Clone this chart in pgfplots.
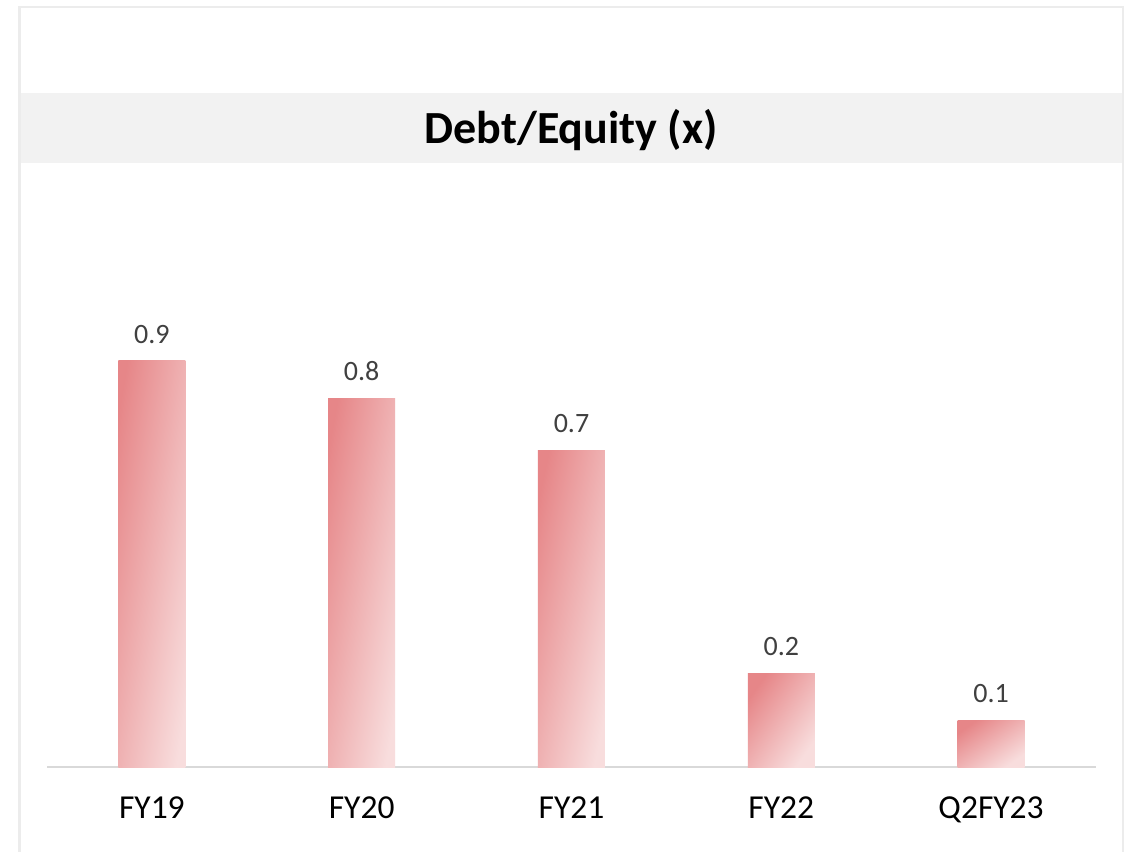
\documentclass[border=0pt]{standalone}
\usepackage{pgfplots}
\pgfplotsset{compat=1.18}
\usepackage{fontspec}
\setmainfont{Carlito}
\definecolor{barA}{RGB}{230,134,136}
\definecolor{barB}{RGB}{248,221,221}
\definecolor{band}{RGB}{242,242,242}
\definecolor{frame}{RGB}{236,236,236}
\definecolor{baseline}{RGB}{217,217,217}
\definecolor{lbl}{RGB}{64,64,64}
\begin{document}
\begin{tikzpicture}[x=1pt,y=1pt]
\useasboundingbox (0,0) rectangle (1132,852);
\fill[white] (0,0) rectangle (1132,852);
\fill[band] (20,689) rectangle (1123,759);
\draw[frame, line width=2.7pt] (19.7,0) -- (19.7,845) -- (1123,845) -- (1123,0);
\node[font=\fontsize{46}{54}\selectfont\bfseries, text=black] at (571,722) {Debt/Equity (x)};
\begin{axis}[
  at={(47pt,85pt)}, anchor=south west,
  scale only axis,
  width=1049pt, height=470pt,
  xmin=-0.5, xmax=4.5, ymin=0, ymax=1,
  axis x line*=bottom, axis y line=none,
  x axis line style={draw=baseline, line width=1.6pt, -},
  xtick={0,1,2,3,4},
  xticklabels={FY19,FY20,FY21,FY22,Q2FY23},
  major tick length=0pt,
  xticklabel style={font=\fontsize{33.5}{40}\selectfont, text=black, yshift=-26pt},
  ybar, bar width=67pt, bar shift=0pt,
  nodes near coords={\pgfmathprintnumber[fixed,fixed zerofill,precision=1,assume math mode=true]{\pgfplotspointmeta}},
  nodes near coords style={font=\fontsize{28}{34}\selectfont, text=lbl, yshift=14pt},
  clip=false,
]
\addplot[draw=none, top color=barA, bottom color=barB, shading angle=80.6] coordinates {(0,0.864)};
\addplot[draw=none, top color=barA, bottom color=barB, shading angle=79.7] coordinates {(1,0.785)};
\addplot[draw=none, top color=barA, bottom color=barB, shading angle=78.1] coordinates {(2,0.674)};
\addplot[draw=none, top color=barA, bottom color=barB, shading angle=54.5] coordinates {(3,0.200)};
\addplot[draw=none, top color=barA, bottom color=barB, shading angle=35.0] coordinates {(4,0.100)};
\end{axis}
\end{tikzpicture}
\end{document}
